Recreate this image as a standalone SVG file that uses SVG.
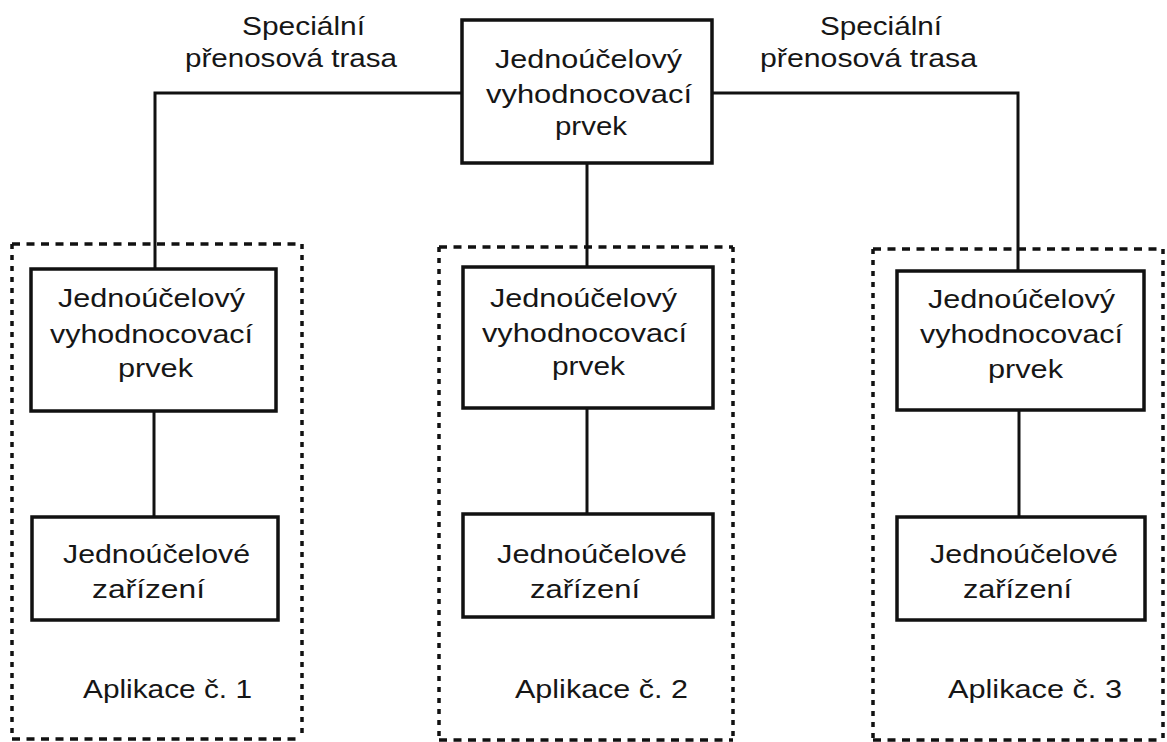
<svg xmlns="http://www.w3.org/2000/svg" width="1167" height="742" viewBox="0 0 1167 742">
  <style>
    .box { fill: #ffffff; stroke: #111111; stroke-width: 3.5; }
    .wire { fill: none; stroke: #111111; stroke-width: 3; }
    .dash-h { fill: none; stroke: #111111; stroke-width: 3.5; stroke-dasharray: 8 6.5; }
    .dash-v { fill: none; stroke: #111111; stroke-width: 3.5; stroke-dasharray: 5 6; }
    text { font-family: "Liberation Sans", Arial, sans-serif; font-size: 25px; fill: #161616; text-anchor: middle; }
  </style>
  <rect width="1167" height="742" fill="#ffffff"/>

  <!-- application frames -->
  <g id="app1-frame">
    <path class="dash-h" d="M12 244 H302 M12 739 H302"/>
    <path class="dash-v" d="M12 244 V739 M302 244 V739"/>
  </g>
  <g id="app2-frame">
    <path class="dash-h" d="M439 247 H733 M439 740 H733"/>
    <path class="dash-v" d="M439 247 V740 M733 247 V740"/>
  </g>
  <g id="app3-frame">
    <path class="dash-h" d="M873 249 H1163 M873 740 H1163"/>
    <path class="dash-v" d="M873 249 V740 M1163 249 V740"/>
  </g>

  <!-- connectors -->
  <g id="connectors">
    <path class="wire" d="M155 269 V93 H462"/>
    <path class="wire" d="M712 93 H1018 V271"/>
    <path class="wire" d="M587 163 V267"/>
    <path class="wire" d="M154 411 V517"/>
    <path class="wire" d="M587 408 V514"/>
    <path class="wire" d="M1019 410 V517"/>
  </g>

  <!-- route labels -->
  <g id="label-left">
    <text x="303.5" y="35" textLength="123" lengthAdjust="spacingAndGlyphs">Speciální</text>
    <text x="291" y="67" textLength="212" lengthAdjust="spacingAndGlyphs">přenosová trasa</text>
  </g>
  <g id="label-right">
    <text x="881" y="35" textLength="122" lengthAdjust="spacingAndGlyphs">Speciální</text>
    <text x="868.5" y="67" textLength="217" lengthAdjust="spacingAndGlyphs">přenosová trasa</text>
  </g>

  <!-- central evaluator -->
  <g id="central">
    <rect class="box" x="462" y="20" width="250" height="143"/>
    <text x="588.5" y="68" textLength="187" lengthAdjust="spacingAndGlyphs">Jednoúčelový</text>
    <text x="589" y="103" textLength="206" lengthAdjust="spacingAndGlyphs">vyhodnocovací</text>
    <text x="591" y="135" textLength="72" lengthAdjust="spacingAndGlyphs">prvek</text>
  </g>

  <!-- application 1 -->
  <g id="eval1">
    <rect class="box" x="31" y="269" width="245" height="142"/>
    <text x="151.5" y="307" textLength="187" lengthAdjust="spacingAndGlyphs">Jednoúčelový</text>
    <text x="151.5" y="343" textLength="203" lengthAdjust="spacingAndGlyphs">vyhodnocovací</text>
    <text x="155.5" y="377" textLength="75" lengthAdjust="spacingAndGlyphs">prvek</text>
  </g>
  <g id="device1">
    <rect class="box" x="32" y="517" width="246" height="103"/>
    <text x="156.5" y="563" textLength="187" lengthAdjust="spacingAndGlyphs">Jednoúčelové</text>
    <text x="148.5" y="598" textLength="113" lengthAdjust="spacingAndGlyphs">zařízení</text>
  </g>
  <g id="app1-label">
    <text x="167.5" y="698" textLength="169" lengthAdjust="spacingAndGlyphs">Aplikace č. 1</text>
  </g>

  <!-- application 2 -->
  <g id="eval2">
    <rect class="box" x="463" y="267" width="250" height="141"/>
    <text x="583.5" y="307" textLength="187" lengthAdjust="spacingAndGlyphs">Jednoúčelový</text>
    <text x="584.5" y="342" textLength="205" lengthAdjust="spacingAndGlyphs">vyhodnocovací</text>
    <text x="588.5" y="375" textLength="73" lengthAdjust="spacingAndGlyphs">prvek</text>
  </g>
  <g id="device2">
    <rect class="box" x="463" y="514" width="250" height="103"/>
    <text x="592" y="563" textLength="190" lengthAdjust="spacingAndGlyphs">Jednoúčelové</text>
    <text x="585" y="598" textLength="110" lengthAdjust="spacingAndGlyphs">zařízení</text>
  </g>
  <g id="app2-label">
    <text x="601.5" y="698" textLength="173" lengthAdjust="spacingAndGlyphs">Aplikace č. 2</text>
  </g>

  <!-- application 3 -->
  <g id="eval3">
    <rect class="box" x="897" y="271" width="247" height="139"/>
    <text x="1021.5" y="308" textLength="187" lengthAdjust="spacingAndGlyphs">Jednoúčelový</text>
    <text x="1021.5" y="343" textLength="203" lengthAdjust="spacingAndGlyphs">vyhodnocovací</text>
    <text x="1025.5" y="378" textLength="75" lengthAdjust="spacingAndGlyphs">prvek</text>
  </g>
  <g id="device3">
    <rect class="box" x="897" y="517" width="248" height="103"/>
    <text x="1024" y="563" textLength="188" lengthAdjust="spacingAndGlyphs">Jednoúčelové</text>
    <text x="1017.5" y="598" textLength="109" lengthAdjust="spacingAndGlyphs">zařízení</text>
  </g>
  <g id="app3-label">
    <text x="1035" y="698" textLength="174" lengthAdjust="spacingAndGlyphs">Aplikace č. 3</text>
  </g>
</svg>
